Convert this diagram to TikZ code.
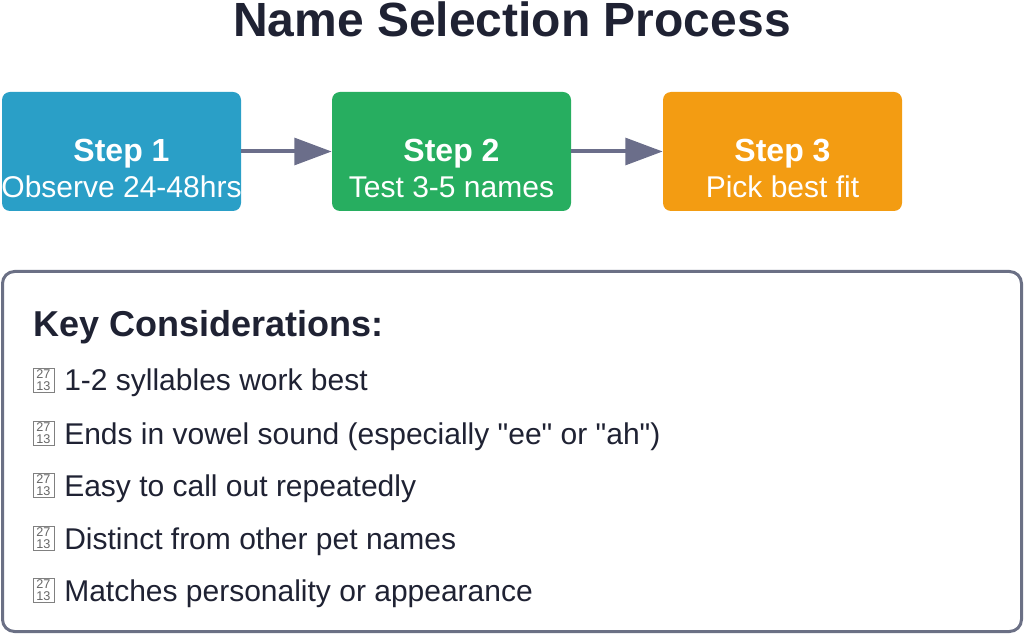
\documentclass[tikz,border=0pt]{standalone}
\usepackage{fontspec}
\setmainfont{Liberation Sans}
\usetikzlibrary{arrows.meta}
\definecolor{stepblue}{HTML}{2A9FC7}
\definecolor{stepgreen}{HTML}{27AE60}
\definecolor{steporange}{HTML}{F39C12}
\definecolor{linkgray}{HTML}{6B6E8A}
\definecolor{panelgray}{HTML}{6B7085}
\definecolor{inkdark}{HTML}{1F2233}

\begin{document}
\begin{tikzpicture}[x=0.75pt,y=-0.75pt,
    stepbox/.style={rectangle,rounded corners=6pt,minimum width=179.25pt,minimum height=89.25pt,inner sep=0pt},
    stephead/.style={anchor=base,text=white,font=\fontsize{24}{28}\selectfont\bfseries,inner sep=0pt},
    stepsub/.style={anchor=base,text=white,font=\fontsize{22.5}{26}\selectfont,inner sep=0pt},
    link/.style={draw=linkgray,line width=3pt,-{Triangle[length=28pt,width=20pt]}},
    tofu/.style={draw=gray,line width=0.5pt,minimum width=15.5pt,minimum height=18pt,inner sep=0pt,
      align=center,font=\fontsize{9.5}{8.5}\selectfont,text=gray!80!black},
    item/.style={anchor=base west,inner sep=0pt,text=inkdark,font=\fontsize{22.5}{26}\selectfont}]
\useasboundingbox (0,0) rectangle (1024,634);
\node[anchor=base,inner sep=0pt,text=inkdark,font=\fontsize{36}{40}\selectfont\bfseries] (title) at (512,37) {Name Selection Process};
% the three steps
\node[stepbox,fill=stepblue] (s1) at (121.5,151.5) {};
\node[stepbox,fill=stepgreen] (s2) at (451.5,151.5) {};
\node[stepbox,fill=steporange] (s3) at (782.5,151.5) {};
\node[stephead] (h1) at (121.5,162) {Step 1};
\node[stepsub] (b1) at (121.5,198) {Observe 24-48hrs};
\node[stephead] (h2) at (451.5,162) {Step 2};
\node[stepsub] (b2) at (451.5,198) {Test 3-5 names};
\node[stephead] (h3) at (782.5,162) {Step 3};
\node[stepsub] (b3) at (782.5,198) {Pick best fit};
\draw[link] (s1) -- (s2);
\draw[link] (s2) -- (s3);
% considerations
\node[draw=panelgray,line width=2.25pt,rounded corners=9pt,fill=white,minimum width=764.25pt,minimum height=270pt,inner sep=0pt] (keys) at (512,451.5) {};
\node[anchor=base west,inner sep=0pt,text=inkdark,font=\fontsize{27}{30}\selectfont\bfseries] (khead) at (33,337) {Key Considerations:};
\node[tofu] (t1) at (43.5,380) {27\\13};
\node[item] (k1) at (64,391) {1-2 syllables work best};
\node[tofu] (t2) at (43.5,433) {27\\13};
\node[item] (k2) at (64,444) {Ends in vowel sound (especially \textquotedbl ee\textquotedbl\ or \textquotedbl ah\textquotedbl)};
\node[tofu] (t3) at (43.5,485) {27\\13};
\node[item] (k3) at (64,496) {Easy to call out repeatedly};
\node[tofu] (t4) at (43.5,538) {27\\13};
\node[item] (k4) at (64,549) {Distinct from other pet names};
\node[tofu] (t5) at (43.5,590) {27\\13};
\node[item] (k5) at (64,601) {Matches personality or appearance};
\end{tikzpicture}
\end{document}
